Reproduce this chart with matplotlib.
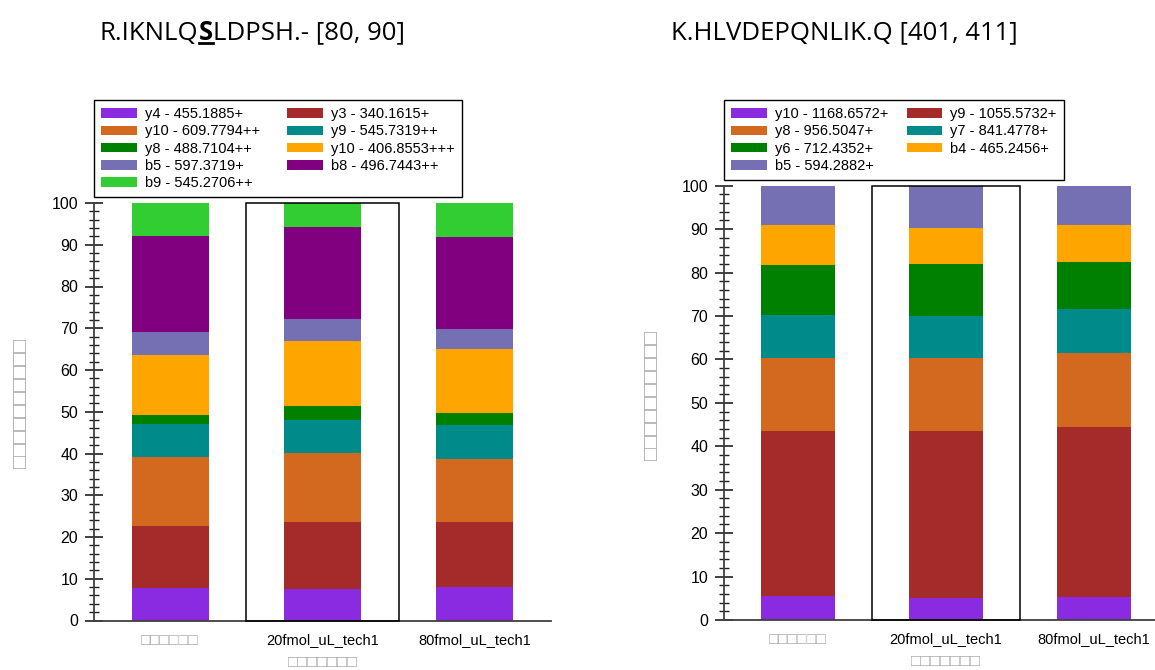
import matplotlib
matplotlib.use("Agg")
import matplotlib.pyplot as plt
from matplotlib.patches import Rectangle, Patch
from matplotlib.ticker import MultipleLocator
from matplotlib.lines import Line2D

W, H = 1155, 670

# ---- data ----
samples = ["□□□□□□", "20fmol_uL_tech1", "80fmol_uL_tech1"]

left_labels = ["y4 - 455.1885+", "y3 - 340.1615+", "y10 - 609.7794++",
               "y9 - 545.7319++", "y8 - 488.7104++", "y10 - 406.8553+++",
               "b5 - 597.3719+", "b8 - 496.7443++", "b9 - 545.2706++"]
left_values = [
    [7.7, 7.5, 8.0],     # y4
    [14.9, 16.1, 15.6],  # y3
    [16.6, 16.5, 15.1],  # y10 ++
    [7.9, 7.9, 8.1],     # y9
    [2.1, 3.3, 2.9],     # y8
    [14.4, 15.6, 15.3],  # y10 +++
    [5.5, 5.3, 4.8],     # b5
    [23.0, 22.1, 22.1],  # b8
    [7.9, 5.7, 8.1],     # b9
]
left_colors = ["#8a2be2", "#a52a2a", "#d2691e", "#008b8b", "#008000",
               "#ffa500", "#7570b3", "#800080", "#32cd32"]

right_labels = ["y10 - 1168.6572+", "y9 - 1055.5732+", "y8 - 956.5047+",
                "y7 - 841.4778+", "y6 - 712.4352+", "b4 - 465.2456+",
                "b5 - 594.2882+"]
right_values = [
    [5.5, 5.1, 5.3],     # y10
    [38.0, 38.4, 39.1],  # y9
    [16.8, 16.8, 17.1],  # y8
    [9.9, 9.7, 10.1],    # y7
    [11.5, 12.0, 10.8],  # y6
    [9.25, 8.3, 8.6],    # b4
    [9.05, 9.7, 9.0],    # b5
]
right_colors = ["#8a2be2", "#a52a2a", "#d2691e", "#008b8b", "#008000",
                "#ffa500", "#7570b3"]

y_label = "□□□□□□□□□□"
x_label = "□□□□□□□"
GRAY = "#aaaaaa"

plt.rcParams["font.family"] = ["Liberation Sans", "DejaVu Sans"]

fig = plt.figure(figsize=(W / 100, H / 100), dpi=100)


def px_axes(x0, y_top, x1, y_bot):
    return fig.add_axes([x0 / W, 1 - y_bot / H, (x1 - x0) / W, (y_bot - y_top) / H])


def draw_panel(ax, values, colors, labels, legend_xy, colspace, ylab_pos):
    x = list(range(len(samples)))
    bottom = [0.0] * len(samples)
    handles = []
    for vals, col, lab in zip(values, colors, labels):
        ax.bar(x, vals, width=0.505, bottom=bottom, color=col, linewidth=0, zorder=2)
        bottom = [b + v for b, v in zip(bottom, vals)]
        handles.append(Patch(facecolor=col, edgecolor="none", label=lab))

    ax.set_xlim(-0.5, 2.5)
    ax.set_ylim(0, 100)
    for s in ("top", "right"):
        ax.spines[s].set_visible(False)
    for s in ("left", "bottom"):
        ax.spines[s].set_color("#404040")
        ax.spines[s].set_linewidth(1.3)

    ax.yaxis.set_major_locator(MultipleLocator(10))
    ax.yaxis.set_minor_locator(MultipleLocator(2))
    ax.tick_params(axis="y", which="major", direction="inout", length=13, width=1.2,
                   color="#202020", labelsize=11.5, pad=5)
    ax.tick_params(axis="y", which="minor", direction="inout", length=7, width=1.0,
                   color="#202020")
    ax.set_xticks(x)
    ax.set_xticklabels(samples)
    ax.tick_params(axis="x", direction="in", length=7, width=1.2, color="#202020",
                   labelsize=10.5, pad=9)
    first = ax.get_xticklabels()[0]
    first.set_color(GRAY)
    first.set_fontsize(11.5)

    ax.set_xlabel(x_label, color=GRAY, fontsize=12, labelpad=5)
    ax.set_ylabel(y_label, color=GRAY, fontsize=15.5, va="center")
    ax.yaxis.set_label_coords(*ylab_pos)

    # highlighted sample frame
    ax.add_patch(Rectangle((0.5, 0), 1.0, 100, fill=False, edgecolor="black",
                           linewidth=1.1, zorder=3, clip_on=False))

    # legend filled row by row
    n = len(handles)
    order = list(range(0, n, 2)) + list(range(1, n, 2))
    fig.legend([handles[i] for i in order], [labels[i] for i in order],
               ncol=2, loc="upper left",
               bbox_to_anchor=(legend_xy[0] / W, 1 - legend_xy[1] / H),
               frameon=True, fancybox=False, edgecolor="black", framealpha=1,
               fontsize=10.5, handlelength=2.45, handleheight=0.65,
               handletextpad=0.55, labelspacing=0.22, columnspacing=colspace,
               borderpad=0.5, borderaxespad=0)


axL = px_axes(94, 203, 551, 620.5)
draw_panel(axL, left_values, left_colors, left_labels, (94, 100), 1.85,
           ((21 - 94) / 457, (620.5 - 403) / 417.5))

axR = px_axes(724, 185.7, 1168, 620)
draw_panel(axR, right_values, right_colors, right_labels, (724, 100), 1.25,
           ((652 - 724) / 444, (620 - 395) / 434.3))

# ---- titles ----
fig.canvas.draw()
renderer = fig.canvas.get_renderer()
TITLE_FONT = dict(family=["Open Sans", "DejaVu Sans"], fontsize=18.5, va="baseline")


def run_title(parts, x_px, y_px):
    """Draw title text made of consecutive pieces; (text, bold, underline)."""
    x = x_px
    for txt, bold, under in parts:
        t = fig.text(x / W, 1 - y_px / H, txt,
                     fontweight="bold" if bold else "normal", **TITLE_FONT)
        bb = t.get_window_extent(renderer)
        if under:
            fig.add_artist(Line2D([bb.x0 / W, bb.x1 / W],
                                  [(H - y_px - 3) / H] * 2,
                                  color="black", linewidth=2.0))
        x += bb.width


run_title([("R.IKNLQ", False, False), ("S", True, True),
           ("LDPSH.- [80, 90]", False, False)], 100, 39.5)
run_title([("K.HLVDEPQNLIK.Q [401, 411]", False, False)], 671, 39.5)

fig.savefig("out.png", dpi=100)
